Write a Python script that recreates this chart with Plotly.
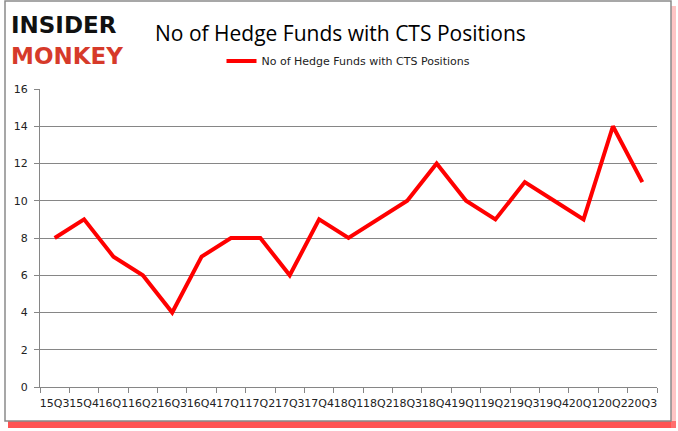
import plotly.graph_objects as go

quarters = ["15Q3", "15Q4", "16Q1", "16Q2", "16Q3", "16Q4", "17Q1", "17Q2", "17Q3", "17Q4",
            "18Q1", "18Q2", "18Q3", "18Q4", "19Q1", "19Q2", "19Q3", "19Q4", "20Q1", "20Q2", "20Q3"]
hedge_funds = [8, 9, 7, 6, 4, 7, 8, 8, 6, 9, 8, 9, 10, 12, 10, 9, 11, 10, 9, 14, 11]
series_name = "No of Hedge Funds with CTS Positions"
title_text = "No of Hedge Funds with CTS Positions"

W, H = 678, 431
ml, mr, mt, mb = 40, 21, 89, 44
pw, ph = W - ml - mr, H - mt - mb

def px_x(x):
    return (x - ml) / pw

def px_y(y):
    return (H - mb - y) / ph

fig = go.Figure()
fig.add_trace(go.Scatter(
    x=quarters, y=hedge_funds, mode="lines", name=series_name,
    line=dict(color="#ff0000", width=4),
))

shapes = [
    # red shadow
    dict(type="rect", xref="paper", yref="paper", x0=px_x(8), x1=px_x(676), y0=px_y(428), y1=px_y(421),
         fillcolor="rgba(255,40,40,0.8)", line=dict(width=0), layer="below"),
    dict(type="rect", xref="paper", yref="paper", x0=px_x(671), x1=px_x(676), y0=px_y(428), y1=px_y(6),
         fillcolor="rgba(255,140,140,0.5)", line=dict(width=0), layer="below"),
    # frame
    dict(type="rect", xref="paper", yref="paper", x0=px_x(5), x1=px_x(671), y0=px_y(421), y1=px_y(1),
         fillcolor="white", line=dict(color="#8a8a8a", width=1.5), layer="below"),
]

annotations = [
    dict(text="<b>INSIDER</b>", xref="paper", yref="paper", x=px_x(9), y=px_y(25),
         xanchor="left", yanchor="middle", showarrow=False,
         font=dict(family="DejaVu Sans", size=23, color="#111111")),
    dict(text="<b>MONKEY</b>", xref="paper", yref="paper", x=px_x(9), y=px_y(56),
         xanchor="left", yanchor="middle", showarrow=False,
         font=dict(family="DejaVu Sans", size=23, color="#d63a2a")),
    dict(text=title_text, xref="paper", yref="paper", x=px_x(340), y=px_y(33),
         xanchor="center", yanchor="middle", showarrow=False,
         font=dict(family="Open Sans", size=21, color="#000000", weight=500)),
]

fig.update_layout(
    width=W, height=H,
    margin=dict(l=ml, r=mr, t=mt, b=mb, autoexpand=False),
    paper_bgcolor="white", plot_bgcolor="white",
    shapes=shapes, annotations=annotations,
    showlegend=True,
    legend=dict(orientation="h", x=0.5, xanchor="center", y=px_y(61), yanchor="middle",
                font=dict(family="DejaVu Sans", size=11, color="#222222"),
                bgcolor="rgba(0,0,0,0)"),
    font=dict(family="DejaVu Sans", size=11, color="#222222"),
)
fig.update_xaxes(
    type="category", range=[-0.5, len(quarters) - 0.5],
    showline=True, linecolor="#868686", linewidth=1,
    ticks="outside", tickson="boundaries", ticklen=5, tickcolor="#868686",
    showgrid=False, tickfont=dict(family="DejaVu Sans", size=11, color="#222222"),
    tickangle=0, ticklabelstandoff=6,
)
fig.update_yaxes(
    range=[0, 16], dtick=2, tick0=0,
    showline=True, linecolor="#868686", linewidth=1,
    ticks="outside", ticklen=5, tickcolor="#868686",
    showgrid=True, gridcolor="#868686", gridwidth=1,
    zeroline=False, ticklabelstandoff=4,
    tickfont=dict(family="DejaVu Sans", size=11, color="#222222"),
)

fig.write_html("out.html", config={"displayModeBar": False},
               post_script="document.body.style.margin='0';document.body.style.padding='0';")
